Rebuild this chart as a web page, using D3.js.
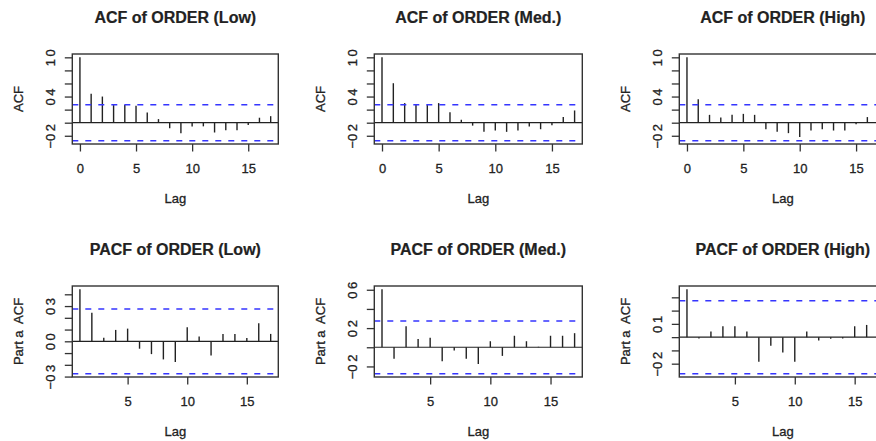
<!DOCTYPE html>
<html>
<head>
<meta charset="utf-8">
<script src="https://cdn.jsdelivr.net/npm/d3@7"></script>
<style>
  body { margin: 0; background: #fff; }
  text { font-family: "Liberation Sans", Arial, Helvetica, sans-serif; fill: #222; stroke: #222; stroke-width: 0.3px; }
  text.title { stroke-width: 0.2px; }
</style>
</head>
<body>
<div id="chart"></div>
<script>
// lags on the x axis
let acfLags  = [0, 1, 2, 3, 4, 5, 6, 7, 8, 9, 10, 11, 12, 13, 14, 15, 16, 17]
let pacfLags = [1, 2, 3, 4, 5, 6, 7, 8, 9, 10, 11, 12, 13, 14, 15, 16, 17]

// autocorrelations
let acfLow  = [1, 0.442, 0.40, 0.27, 0.27, 0.26, 0.155, 0.055, -0.085, -0.16, -0.06, -0.056, -0.15, -0.117, -0.117, -0.036, 0.076, 0.10]
let acfMed  = [1, 0.604, 0.30, 0.27, 0.27, 0.30, 0.16, 0.045, -0.045, -0.14, -0.12, -0.14, -0.12, -0.06, -0.10, -0.04, 0.086, 0.187]
let acfHigh = [1, 0.36, 0.12, 0.08, 0.12, 0.135, 0.12, -0.10, -0.14, -0.16, -0.22, -0.12, -0.10, -0.12, -0.12, -0.025, 0.086, 0.05]

// partial autocorrelations (lag 1 .. 17)
let pacfLow  = [0.442, 0.243, 0.03, 0.097, 0.108, -0.063, -0.109, -0.154, -0.177, 0.12, 0.04, -0.12, 0.063, 0.063, 0.029, 0.154, 0.063]
let pacfMed  = [0.604, -0.12, 0.22, 0.085, 0.10, -0.147, -0.035, -0.12, -0.175, 0.063, -0.09, 0.12, 0.063, 0.005, 0.12, 0.12, 0.147]
let pacfHigh = [0.36, -0.01, 0.042, 0.082, 0.082, 0.042, -0.185, -0.065, -0.115, -0.185, 0.042, -0.025, -0.012, -0.01, 0.082, 0.092, 0.03]

// confidence bound (1.96/sqrt(n))
let clim = 0.275

// axis ticks and the labels R kept
let acfXTicks  = [0, 5, 10, 15]
let pacfXTicks = [5, 10, 15]
let acfYTicks      = [-0.2, 0, 0.2, 0.4, 0.6, 0.8, 1.0]
let acfYLabels     = [-0.2, 0.4, 1.0]
let pacfLowYTicks  = [-0.3, -0.2, -0.1, 0, 0.1, 0.2, 0.3, 0.4]
let pacfLowYLabels = [-0.3, 0, 0.3]
let pacfMedYTicks  = [-0.2, 0, 0.2, 0.4, 0.6]
let pacfMedYLabels = [-0.2, 0.2, 0.6]
let pacfHighYTicks  = [-0.2, -0.1, 0, 0.1, 0.2, 0.3]
let pacfHighYLabels = [-0.2, 0.1]

let titles = ["ACF of ORDER (Low)", "ACF of ORDER (Med.)", "ACF of ORDER (High)",
              "PACF of ORDER (Low)", "PACF of ORDER (Med.)", "PACF of ORDER (High)"]

let panels = [
  {title: titles[0], ylab: "ACF", lags: acfLags, values: acfLow,  xTicks: acfXTicks, yTicks: acfYTicks, yLabels: acfYLabels, col: 0, row: 0},
  {title: titles[1], ylab: "ACF", lags: acfLags, values: acfMed,  xTicks: acfXTicks, yTicks: acfYTicks, yLabels: acfYLabels, col: 1, row: 0},
  {title: titles[2], ylab: "ACF", lags: acfLags, values: acfHigh, xTicks: acfXTicks, yTicks: acfYTicks, yLabels: acfYLabels, col: 2, row: 0},
  {title: titles[3], ylab: "Part a  ACF", lags: pacfLags, values: pacfLow,  xTicks: pacfXTicks, yTicks: pacfLowYTicks,  yLabels: pacfLowYLabels,  col: 0, row: 1},
  {title: titles[4], ylab: "Part a  ACF", lags: pacfLags, values: pacfMed,  xTicks: pacfXTicks, yTicks: pacfMedYTicks,  yLabels: pacfMedYLabels,  col: 1, row: 1},
  {title: titles[5], ylab: "Part a  ACF", lags: pacfLags, values: pacfHigh, xTicks: pacfXTicks, yTicks: pacfHighYTicks, yLabels: pacfHighYLabels, col: 2, row: 1}
]

// plot region geometry
let colLeft  = [72.3, 374.3, 679.3]
let colWidth = [206, 208, 207]
let rowTop    = [54, 286]
let rowHeight = [90, 91]
let tickLen = 7.5

let svg = d3.select("#chart")
  .append("svg")
  .attr("width", 876)
  .attr("height", 441)

// R style 4% extension of the data range
function extend(ext) {
  let d = (ext[1] - ext[0]) * 0.04
  return [ext[0] - d, ext[1] + d]
}

// the decimal point is lost in the picture, only a small gap is left
function fmtLabel(v) {
  return d3.format(".1f")(v).replace(".", "\u2009").replace("-", "\u2212")
}

panels.forEach(p => {
  let left = colLeft[p.col], w = colWidth[p.col]
  let top = rowTop[p.row], h = rowHeight[p.row]

  let x = d3.scaleLinear()
    .domain(extend(d3.extent(p.lags)))
    .range([left, left + w])
  let y = d3.scaleLinear()
    .domain(extend(d3.extent(p.values.concat([-clim, clim]))))
    .range([top + h, top])

  let g = svg.append("g")

  // zero line
  g.append("line")
    .attr("x1", left).attr("x2", left + w)
    .attr("y1", y(0)).attr("y2", y(0))
    .attr("stroke", "#222").attr("stroke-width", 1.2)

  // spikes
  g.selectAll("line.spike")
    .data(p.lags.map((l, i) => ({lag: l, v: p.values[i]})))
    .enter()
    .append("line")
    .attr("class", "spike")
    .attr("x1", d => x(d.lag)).attr("x2", d => x(d.lag))
    .attr("y1", y(0)).attr("y2", d => y(d.v))
    .attr("stroke", "#222").attr("stroke-width", 1.4)

  // confidence bounds
  g.selectAll("line.ci")
    .data([clim, -clim])
    .enter()
    .append("line")
    .attr("class", "ci")
    .attr("x1", left).attr("x2", left + w)
    .attr("y1", d => y(d)).attr("y2", d => y(d))
    .attr("stroke", "#3535ff").attr("stroke-width", 1.5)
    .attr("stroke-dasharray", "6,7")

  // box
  g.append("rect")
    .attr("x", left).attr("y", top)
    .attr("width", w).attr("height", h)
    .attr("fill", "none").attr("stroke", "#333").attr("stroke-width", 1.4)

  // x axis
  let xAxis = g.append("g")
    .attr("transform", `translate(0,${top + h})`)
    .call(d3.axisBottom(x).tickValues(p.xTicks).tickSize(tickLen).tickSizeOuter(0))
  xAxis.select(".domain").remove()
  xAxis.selectAll("line").attr("stroke", "#333").attr("stroke-width", 1.3)
  xAxis.selectAll("text")
    .attr("y", 29).attr("dy", 0)
    .style("font-size", "13px")
    .attr("fill", "#222")

  // y axis, labels parallel to the axis
  let yAxis = g.append("g")
    .attr("transform", `translate(${left},0)`)
    .call(d3.axisLeft(y).tickValues(p.yTicks).tickSize(tickLen).tickSizeOuter(0)
      .tickFormat(v => p.yLabels.some(l => Math.abs(l - v) < 1e-9) ? fmtLabel(v) : ""))
  yAxis.select(".domain").remove()
  yAxis.selectAll("line").attr("stroke", "#333").attr("stroke-width", 1.3)
  yAxis.selectAll("text")
    .attr("transform", "rotate(-90)")
    .attr("x", 0).attr("y", -17.3).attr("dy", 0)
    .attr("text-anchor", "middle")
    .style("font-size", "13px")
    .attr("fill", "#222")

  // titles
  g.append("text")
    .attr("class", "title")
    .attr("x", left + w / 2).attr("y", top - 31.5)
    .attr("text-anchor", "middle")
    .style("font-size", "16px").style("font-weight", "bold")
    .text(p.title)

  g.append("text")
    .attr("x", left + w / 2).attr("y", top + h + 58.5)
    .attr("text-anchor", "middle")
    .style("font-size", "13px")
    .text("Lag")

  g.append("text")
    .attr("transform", `translate(${left - 49},${top + h / 2}) rotate(-90)`)
    .attr("text-anchor", "middle")
    .style("font-size", "13px")
    .style("white-space", "pre")
    .text(p.ylab)
})
</script>
</body>
</html>
